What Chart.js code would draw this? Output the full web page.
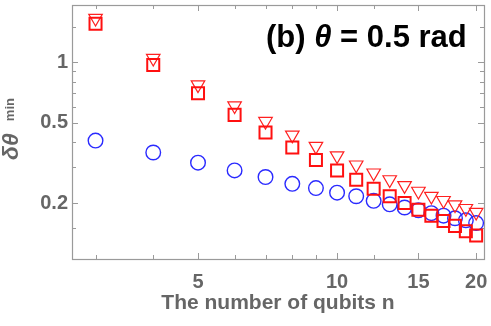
<!DOCTYPE html>
<html>
<head>
<meta charset="utf-8">
<script src="https://cdn.jsdelivr.net/npm/chart.js@4.4.0/dist/chart.umd.min.js"></script>
<style>
  html, body { margin: 0; padding: 0; background: #fff; }
  #wrap { width: 491px; height: 326px; }
</style>
</head>
<body>
<div id="wrap"><canvas id="chart" width="491" height="326"></canvas></div>
<script>
// number of qubits
const qubits = [3, 4, 5, 6, 7, 8, 9, 10, 11, 12, 13, 14, 15, 16, 17, 18, 19, 20];
// blue circles
const circleVals = [0.408, 0.356, 0.317, 0.290, 0.269, 0.249, 0.237, 0.225, 0.216, 0.205, 0.197, 0.190, 0.184, 0.178, 0.173, 0.168, 0.164, 0.159];
// red squares
const squareVals = [1.55, 0.966, 0.700, 0.547, 0.447, 0.377, 0.327, 0.290, 0.261, 0.235, 0.216, 0.200, 0.185, 0.173, 0.163, 0.154, 0.145, 0.138];
// red down triangles
const triangleVals = [1.65, 1.045, 0.771, 0.607, 0.508, 0.435, 0.382, 0.343, 0.309, 0.282, 0.261, 0.244, 0.229, 0.216, 0.206, 0.196, 0.188, 0.180];

const xTicks = [3, 4, 5, 6, 7, 8, 9, 10, 12, 15, 20];
const xLabels = [5, 10, 15, 20];
const yTicks = [0.15, 0.2, 0.3, 0.4, 0.5, 0.6, 0.7, 0.8, 0.9, 1, 1.5];
const yLabels = [0.2, 0.5, 1];

const FONT = 'Liberation Sans, Arial, sans-serif';

function toPoints(vals) {
    return qubits.map((n, i) => ({ x: n, y: vals[i] }));
}

// no extra room for the end labels, the plot box is fixed
function noPad(s) {
    s.paddingTop = 0;
    s.paddingBottom = 0;
    s.paddingLeft = 0;
    s.paddingRight = 0;
}

// frame, inward ticks and the extra texts
const framePlugin = {
    id: 'frame',
    beforeDatasetsDraw(chart) {
        const { ctx, chartArea: a, scales } = chart;
        ctx.save();
        ctx.strokeStyle = '#9a9a9a';
        ctx.lineWidth = 1.2;
        ctx.strokeRect(a.left + 0.5, a.top + 0.5, a.right - a.left, a.bottom - a.top);
        ctx.beginPath();
        xTicks.forEach(v => {
            const px = Math.round(scales.x.getPixelForValue(v)) + 0.5;
            const len = xLabels.includes(v) ? 6 : 4;
            ctx.moveTo(px, a.bottom); ctx.lineTo(px, a.bottom - len);
            ctx.moveTo(px, a.top); ctx.lineTo(px, a.top + len);
        });
        yTicks.forEach(v => {
            const py = Math.round(scales.y.getPixelForValue(v)) + 0.5;
            const len = yLabels.includes(v) ? 6 : 4;
            ctx.moveTo(a.left, py); ctx.lineTo(a.left + len, py);
            ctx.moveTo(a.right, py); ctx.lineTo(a.right - len, py);
        });
        ctx.lineWidth = 1;
        ctx.stroke();
        ctx.restore();
    },
    afterDraw(chart) {
        const ctx = chart.ctx;
        ctx.save();
        // panel label
        ctx.fillStyle = '#000';
        ctx.textBaseline = 'alphabetic';
        ctx.textAlign = 'left';
        const parts = [
            ['(b) ', 'bold 31px ' + FONT],
            ['\u03b8', 'italic bold 31px ' + FONT],
            [' = 0.5 rad', 'bold 31px ' + FONT]
        ];
        let x = 266;
        parts.forEach(([t, f]) => {
            ctx.font = f;
            ctx.fillText(t, x, 47);
            x += ctx.measureText(t).width;
        });
        // y axis title
        ctx.translate(18, 160);
        ctx.rotate(-Math.PI / 2);
        ctx.fillStyle = '#666';
        ctx.font = 'italic bold 23px ' + FONT;
        ctx.fillText('\u03b4\u03b8', 0, 0);
        const w = ctx.measureText('\u03b4\u03b8').width;
        ctx.font = 'bold 13px ' + FONT;
        ctx.fillText('min', w + 12, -4);
        ctx.restore();
    }
};

const tickFont = { family: FONT, size: 20, weight: 'bold' };

new Chart(document.getElementById('chart'), {
    type: 'scatter',
    data: {
        datasets: [
            {
                label: 'squares',
                data: toPoints(squareVals),
                pointStyle: 'rect',
                pointRadius: 8.5,
                borderColor: '#ff1010',
                backgroundColor: 'rgba(0,0,0,0)',
                borderWidth: 2,
                clip: false
            },
            {
                label: 'triangles',
                data: toPoints(triangleVals),
                pointStyle: 'triangle',
                rotation: 180,
                pointRadius: 7.8,
                borderColor: '#ff2020',
                backgroundColor: 'rgba(0,0,0,0)',
                borderWidth: 1.2,
                clip: false
            },
            {
                label: 'circles',
                data: toPoints(circleVals),
                pointStyle: 'circle',
                pointRadius: 7.3,
                borderColor: '#2a2aff',
                backgroundColor: 'rgba(0,0,0,0)',
                borderWidth: 1.4,
                clip: false
            }
        ]
    },
    options: {
        responsive: false,
        animation: false,
        events: [],
        layout: { autoPadding: false, padding: { top: 5, right: 7, left: 0, bottom: 0 } },
        plugins: { legend: { display: false }, tooltip: { enabled: false } },
        scales: {
            x: {
                type: 'logarithmic',
                min: 2.668,
                max: 20.8,
                afterBuildTicks: s => { s.ticks = xTicks.map(v => ({ value: v })); },
                afterFit: s => { s.height = 67; noPad(s); },
                grid: { display: false, drawTicks: false },
                border: { display: false },
                ticks: {
                    autoSkip: false,
                    maxRotation: 0,
                    padding: 11,
                    color: '#666',
                    font: tickFont,
                    callback: v => xLabels.includes(v) ? String(v) : ''
                },
                title: {
                    display: true,
                    text: 'The number of qubits n',
                    color: '#666',
                    font: { family: FONT, size: 21, weight: 'bold' },
                    padding: { top: 0, bottom: 10 }
                }
            },
            y: {
                type: 'logarithmic',
                min: 0.1055,
                max: 1.918,
                afterBuildTicks: s => { s.ticks = yTicks.map(v => ({ value: v })); },
                afterFit: s => { s.width = 72; noPad(s); },
                grid: { display: false, drawTicks: false },
                border: { display: false },
                ticks: {
                    autoSkip: false,
                    padding: 4,
                    color: '#666',
                    font: tickFont,
                    callback: v => yLabels.includes(v) ? String(v) : ''
                }
            }
        }
    },
    plugins: [framePlugin]
});
</script>
</body>
</html>
